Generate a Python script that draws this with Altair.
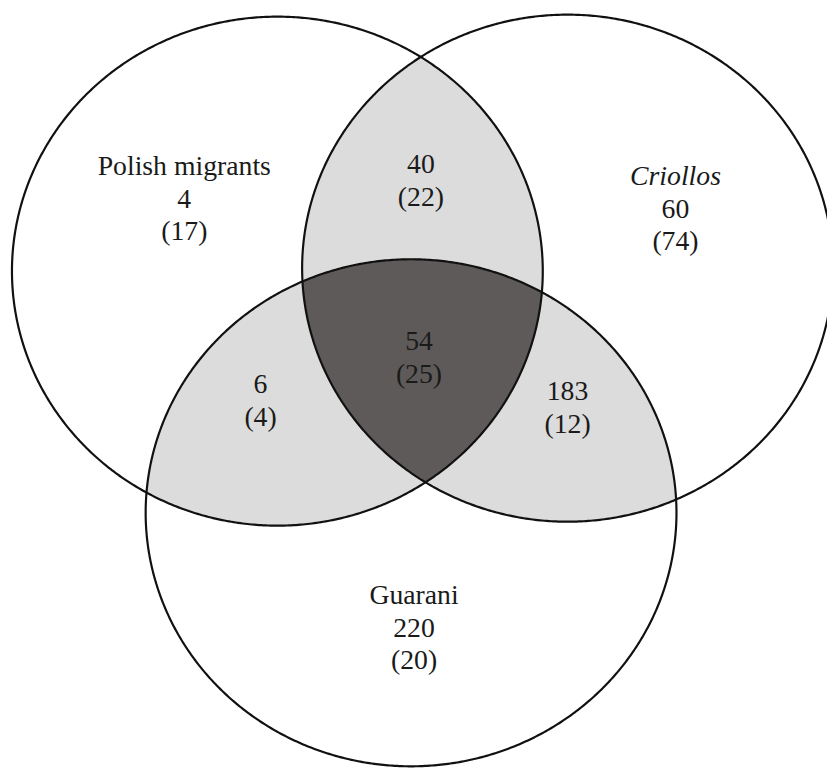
import altair as alt
import numpy as np
import pandas as pd

# ---- data ----
set_names = ["Polish migrants", "Criollos", "Guarani"]
set_counts = [4, 60, 220]
set_paren = [17, 74, 20]

overlap_names = ["Polish migrants & Criollos", "Polish migrants & Guarani",
                 "Criollos & Guarani", "All three"]
overlap_counts = [40, 6, 183, 54]
overlap_paren = [22, 4, 12, 25]

# ---- layout (reference pixel frame) ----
circle_cx = [280, 573, 415]
circle_cy = [270, 267, 514]
circle_rx = [268, 268, 268]
circle_ry = [257, 256, 256]

set_label_x = [186, 682, 418]
set_label_y = [165, 175, 598]
overlap_label_x = [425, 263, 573, 423]
overlap_label_y = [163, 385, 392, 342]
line_gap = 33

FONT = "Liberation Serif"
FS = 28
LIGHT = "#dcdcdc"
DARK = "#5e5a59"

xs = alt.Scale(domain=[8, 827], nice=False, zero=False)
ys = alt.Scale(domain=[8, 761], nice=False, zero=False, reverse=True)

# circle outlines
rows = []
t = np.linspace(0, 2 * np.pi, 721)
for i, n in enumerate(set_names):
    for k, a in enumerate(t):
        rows.append({"set": n, "k": k,
                     "x": circle_cx[i] + circle_rx[i] * np.cos(a),
                     "y": circle_cy[i] + circle_ry[i] * np.sin(a)})
outline_df = pd.DataFrame(rows)


def region(idx):
    lo = max(circle_cx[i] - circle_rx[i] for i in idx)
    hi = min(circle_cx[i] + circle_rx[i] for i in idx)
    out = []
    for x in np.linspace(lo, hi, 2000):
        tops, bots = [], []
        for i in idx:
            u = (x - circle_cx[i]) / circle_rx[i]
            h = circle_ry[i] * np.sqrt(max(0.0, 1 - u * u))
            tops.append(circle_cy[i] - h)
            bots.append(circle_cy[i] + h)
        t0, b0 = max(tops), min(bots)
        if t0 <= b0:
            out.append((x, t0, b0))
    return out


light_rows = []
for name, idx in zip(overlap_names[:3], [(0, 1), (0, 2), (1, 2)]):
    for x, a, b in region(idx):
        light_rows.append({"region": name, "x": x, "y": a, "y2": b})
light_df = pd.DataFrame(light_rows)
dark_df = pd.DataFrame([{"region": overlap_names[3], "x": x, "y": a, "y2": b}
                        for x, a, b in region((0, 1, 2))])

light = alt.Chart(light_df).mark_area(color=LIGHT, opacity=1).encode(
    x=alt.X("x:Q", scale=xs, axis=None),
    y=alt.Y("y:Q", scale=ys, axis=None),
    y2="y2:Q",
    detail="region:N",
)
dark = alt.Chart(dark_df).mark_area(color=DARK, opacity=1).encode(
    x=alt.X("x:Q", scale=xs, axis=None),
    y=alt.Y("y:Q", scale=ys, axis=None),
    y2="y2:Q",
)
outline = alt.Chart(outline_df).mark_line(color="#111111", strokeWidth=2.2).encode(
    x=alt.X("x:Q", scale=xs, axis=None),
    y=alt.Y("y:Q", scale=ys, axis=None),
    order="k:Q",
    detail="set:N",
)

# text
name_rows, num_rows = [], []
for i, n in enumerate(set_names):
    name_rows.append({"t": n, "x": set_label_x[i], "y": set_label_y[i],
                      "italic": n == "Criollos"})
    num_rows.append({"t": str(set_counts[i]), "x": set_label_x[i], "y": set_label_y[i] + line_gap})
    num_rows.append({"t": f"({set_paren[i]})", "x": set_label_x[i], "y": set_label_y[i] + 2 * line_gap})
for i, n in enumerate(overlap_names):
    num_rows.append({"t": str(overlap_counts[i]), "x": overlap_label_x[i], "y": overlap_label_y[i]})
    num_rows.append({"t": f"({overlap_paren[i]})", "x": overlap_label_x[i], "y": overlap_label_y[i] + line_gap})
name_df = pd.DataFrame(name_rows)
num_df = pd.DataFrame(num_rows)


def text_layer(df, style):
    return alt.Chart(df).mark_text(font=FONT, fontSize=FS, fontStyle=style,
                                   color="#1a1a1a", baseline="middle", align="center").encode(
        x=alt.X("x:Q", scale=xs, axis=None),
        y=alt.Y("y:Q", scale=ys, axis=None),
        text="t:N",
    )


names_plain = text_layer(name_df[~name_df["italic"]], "normal")
names_italic = text_layer(name_df[name_df["italic"]], "italic")
nums = text_layer(num_df, "normal")

chart = alt.layer(light, dark, outline, names_plain, names_italic, nums).properties(
    width=819, height=753,
    padding={"left": 0, "top": 0, "right": 8, "bottom": 8},
    autosize=alt.AutoSizeParams(type="none"),
).configure_view(stroke=None)

chart.save("out.html", embed_options={"renderer": "svg", "actions": False})
